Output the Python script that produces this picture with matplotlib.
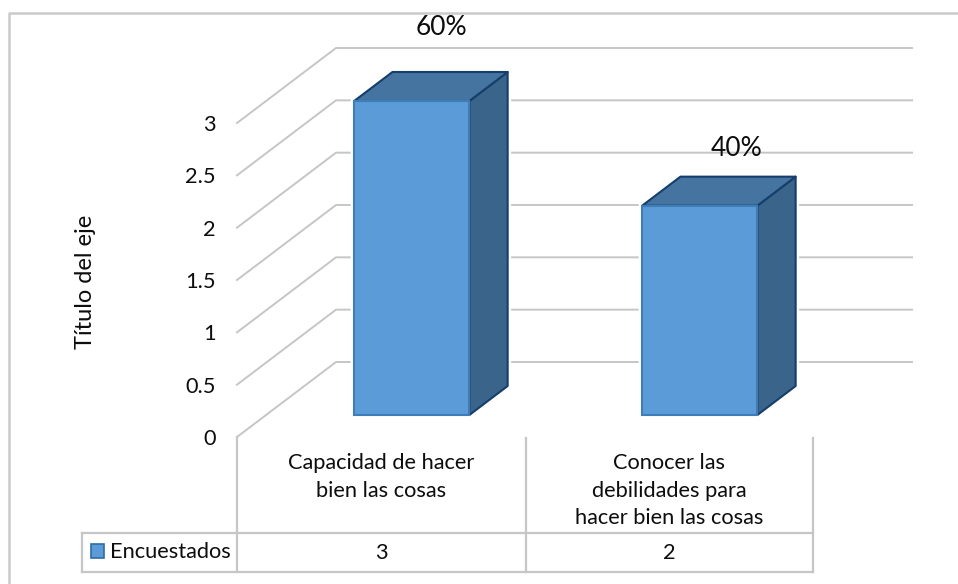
import matplotlib
matplotlib.use('Agg')
import matplotlib.pyplot as plt
from matplotlib.lines import Line2D
from matplotlib.patches import Polygon, Rectangle

categories = ['Capacidad de hacer\nbien las cosas', 'Conocer las\ndebilidades para\nhacer bien las cosas']
values = [3, 2]
percent_labels = ['60%', '40%']
y_ticks = [0, 0.5, 1, 1.5, 2, 2.5, 3]
y_tick_labels = ['0', '0.5', '1', '1.5', '2', '2.5', '3']
series_name = 'Encuestados'
y_title = 'Título del eje'

W, H = 958, 584
plt.rcParams['font.family'] = ['Lato', 'DejaVu Sans']
fig = plt.figure(figsize=(W / 100, H / 100), dpi=100, facecolor='white')


def fx(px):
    return px / W


def fy(py):
    return 1 - py / H


# axes is the front wall of the fake 3d box
ax = fig.add_axes([fx(237), fy(437), fx(813) - fx(237), fy(123) - fy(437)])
ax.set_xlim(-0.5, 1.5)
ax.set_ylim(0, 3)
ax.axis('off')

# oblique depth, in data units per full box depth
DX = 99 / 288
DY = 75 / 104.67
D0, D1 = 0.293, 0.68
BAR_W = 0.4
BAR_SHIFT = 0.006
grid_c = '#c6c6c6'
txt_c = '#0d0d0d'
fs = 15.7


def pr(x, y, d):
    return (x + d * DX, y + d * DY)


def fline(xs, ys, color=grid_c, lw=1.6, z=1):
    fig.add_artist(Line2D([fx(v) for v in xs], [fy(v) for v in ys], color=color, lw=lw, zorder=z))


# gridlines: side wall then back wall
for t in y_ticks:
    p0 = pr(-0.5, t, 0)
    p1 = pr(-0.5, t, 1)
    p2 = pr(1.5, t, 1)
    ax.plot([p0[0], p1[0], p2[0]], [p0[1], p1[1], p2[1]], color=grid_c, lw=1.4, clip_on=False,
            solid_joinstyle='miter', zorder=1)

# bars
for i, v in enumerate(values):
    xl = i - BAR_W / 2 + BAR_SHIFT
    xr = i + BAR_W / 2 + BAR_SHIFT
    front = [pr(xl, 0, D0), pr(xr, 0, D0), pr(xr, v, D0), pr(xl, v, D0)]
    side = [pr(xr, 0, D0), pr(xr, 0, D1), pr(xr, v, D1), pr(xr, v, D0)]
    top = [pr(xl, v, D0), pr(xr, v, D0), pr(xr, v, D1), pr(xl, v, D1)]
    outline = [pr(xl, 0, D0), pr(xr, 0, D0), pr(xr, 0, D1), pr(xr, v, D1), pr(xl, v, D1), pr(xl, v, D0)]
    # white halo that cuts the gridlines next to the bar
    ax.add_patch(Polygon(outline, closed=True, fc='white', ec='white', lw=5, clip_on=False, zorder=2))
    ax.add_patch(Polygon(side, closed=True, fc='#3A6489', ec='#153E6B', lw=1.5, clip_on=False, zorder=3,
                         joinstyle='round'))
    ax.add_patch(Polygon(top, closed=True, fc='#44749F', ec='#153E6B', lw=1.5, clip_on=False, zorder=3,
                         joinstyle='round'))
    ax.add_patch(Polygon(front, closed=True, fc='#5B9BD8', ec='#3E7DB8', lw=1.5, clip_on=False, zorder=4))

# percent labels, placed by hand relative to the bar tops
label_off = [(30, -74), (36.5, -57)]
for i, v in enumerate(values):
    anchor = pr(i + BAR_SHIFT, v, D0)
    ax.annotate(percent_labels[i], xy=anchor, xycoords='data',
                xytext=(label_off[i][0] * 0.72, -label_off[i][1] * 0.72), textcoords='offset points',
                ha='center', va='center', fontsize=19, color=txt_c, zorder=6,
                annotation_clip=False)

# y tick labels
for t, s in zip(y_ticks, y_tick_labels):
    ax.annotate(s, xy=(-0.5, t), xycoords='data', xytext=(-21 * 0.72, -1.5), textcoords='offset points',
                ha='right', va='center', fontsize=fs, color=txt_c, annotation_clip=False)

fig.text(fx(85), fy(282), y_title, rotation=90, ha='center', va='center', fontsize=17, color=txt_c)

# outer chart frame, only top and left show
fline([9, 9, W], [H, 13, 13], color='#cbcbcb', lw=1.8)

# data table
fline([82, 813], [533, 533])
fline([82, 813], [571.5, 571.5])
fline([82, 82], [533, 571.5])
fline([237, 237], [437, 571.5])
fline([525.7, 525.7], [438, 571.5])
fline([813, 813], [438, 571.5])

for i, c in enumerate(categories):
    # labels hang from the top of the cell
    ax.text(i, -(453 - 437) / 104.67, c, ha='center', va='top', fontsize=fs, color=txt_c,
            linespacing=1.47, clip_on=False)
    ax.text(i, -(553 - 437) / 104.67, str(values[i]), ha='center', va='center', fontsize=fs,
            color=txt_c, clip_on=False)

fig.add_artist(Rectangle((fx(90.5), fy(558)), 13.5 / W, 14 / H, transform=fig.transFigure,
                         fc='#5B9BD8', ec='#2F6BA5', lw=1.2))
fig.text(fx(110), fy(552), series_name, ha='left', va='center', fontsize=fs, color=txt_c)

fig.savefig('out.png', dpi=100)
